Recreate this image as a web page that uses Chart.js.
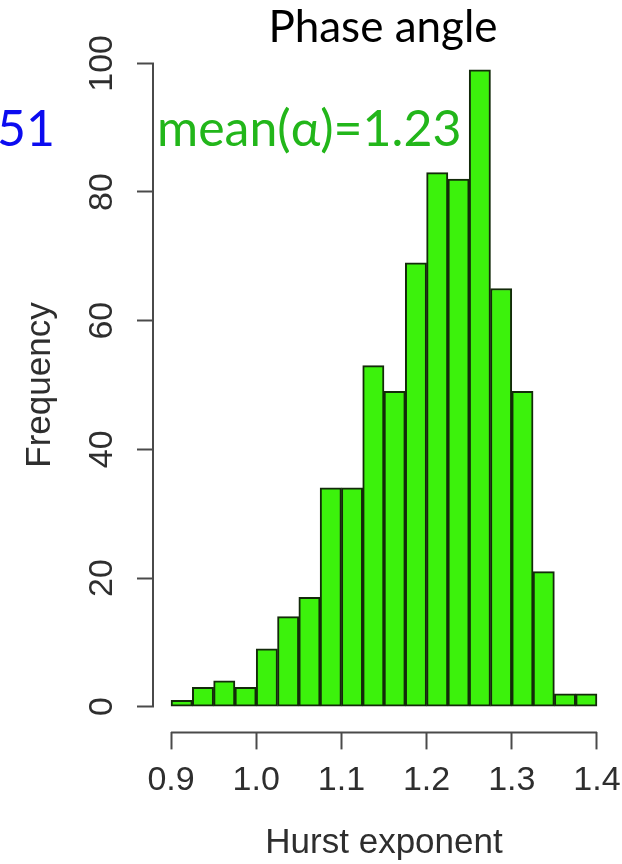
<!DOCTYPE html>
<html>
<head>
<meta charset="utf-8">
<script src="https://cdn.jsdelivr.net/npm/chart.js@4.4.1/dist/chart.umd.min.js"></script>
<style>
  html, body { margin: 0; padding: 0; background: #ffffff; }
  #wrap { width: 622px; height: 864px; }
</style>
</head>
<body>
<div id="wrap"><canvas id="c" width="622" height="864"></canvas></div>
<script>
// Histogram of Hurst exponents for the phase-angle series
const binEdges = [0.900, 0.925, 0.950, 0.975, 1.000, 1.025, 1.050, 1.075, 1.100, 1.125,
                  1.150, 1.175, 1.200, 1.225, 1.250, 1.275, 1.300, 1.325, 1.350, 1.375, 1.400];
const counts = [1, 3, 4, 3, 9, 14, 17, 34, 34, 53, 49, 69, 83, 82, 99, 65, 49, 21, 2, 2];
const xTicks = [0.9, 1.0, 1.1, 1.2, 1.3, 1.4];
const xTickLabels = ['0.9', '1.0', '1.1', '1.2', '1.3', '1.4'];
const yTicks = [0, 20, 40, 60, 80, 100];
const yTickLabels = ['0', '20', '40', '60', '80', '100'];
const xRange = [0.88, 1.42];
const yRange = [-4, 104];
const titleText = 'Phase angle';
const meanText = 'mean(α)=1.23';
const sideText = '51';

const AXIS_FONT = '"Liberation Sans", Arial, Helvetica, sans-serif';
const NOTE_FONT = 'Lato, "Open Sans", sans-serif';
const AXIS_INK = '#2e2e2e';
const LINE_INK = '#4a4a4a';

// base-graphics style axes: lines from first to last tick, rotated y labels, header texts
const decorPlugin = {
  id: 'decor',
  afterDraw(chart) {
    const { ctx, chartArea, scales: { x, y } } = chart;
    ctx.save();
    ctx.strokeStyle = LINE_INK;
    ctx.lineWidth = 2;
    ctx.beginPath();
    const ax = chartArea.left - 1;
    ctx.moveTo(ax, y.getPixelForValue(yTicks[0]));
    ctx.lineTo(ax, y.getPixelForValue(yTicks[yTicks.length - 1]));
    const ay = chartArea.bottom;
    ctx.moveTo(x.getPixelForValue(xTicks[0]), ay);
    ctx.lineTo(x.getPixelForValue(xTicks[xTicks.length - 1]), ay);
    ctx.stroke();

    ctx.fillStyle = AXIS_INK;
    ctx.font = '34px ' + AXIS_FONT;
    ctx.textAlign = 'center';
    ctx.textBaseline = 'middle';
    y.ticks.forEach((t, i) => {
      const py = y.getPixelForValue(t.value);
      ctx.save();
      ctx.translate(102.5, py);
      ctx.rotate(-Math.PI / 2);
      ctx.fillText(yTickLabels[i], 0, 0);
      ctx.restore();
    });

    ctx.textBaseline = 'alphabetic';
    ctx.fillStyle = '#000000';
    ctx.font = '44px ' + NOTE_FONT;
    ctx.textAlign = 'center';
    ctx.fillText(titleText, 383, 42);

    ctx.textAlign = 'left';
    ctx.font = '50px ' + NOTE_FONT;
    ctx.fillStyle = '#22b61a';
    ctx.fillText(meanText, 157, 146);
    ctx.fillStyle = '#0b0bf0';
    ctx.fillText(sideText, -3, 146);
    ctx.restore();
  }
};

const points = counts.map((c, i) => ({ x: (binEdges[i] + binEdges[i + 1]) / 2, y: c }));

new Chart(document.getElementById('c'), {
  type: 'bar',
  data: {
    datasets: [{
      data: points,
      backgroundColor: '#3cf20c',
      borderColor: '#132a0a',
      borderWidth: 2,
      borderSkipped: false,
      barPercentage: 1,
      categoryPercentage: 1
    }]
  },
  options: {
    responsive: false,
    animation: false,
    devicePixelRatio: 1,
    layout: { padding: { top: 37.6, right: 8, left: 0, bottom: 0 } },
    plugins: {
      legend: { display: false },
      tooltip: { enabled: false },
      title: { display: false }
    },
    scales: {
      x: {
        type: 'linear',
        min: xRange[0],
        max: xRange[1],
        offset: false,
        border: { display: false },
        grid: {
          display: true, offset: false, drawOnChartArea: false, drawTicks: true,
          tickLength: 17, tickColor: LINE_INK, tickWidth: 2
        },
        afterBuildTicks(s) { s.ticks = xTicks.map(v => ({ value: v })); },
        ticks: {
          padding: 14,
          autoSkip: false,
          maxRotation: 0,
          minRotation: 0,
          color: AXIS_INK,
          font: { family: AXIS_FONT, size: 34, lineHeight: 1 },
          callback: (v, i) => xTickLabels[i]
        },
        title: {
          display: true,
          text: 'Hurst exponent',
          color: AXIS_INK,
          font: { family: AXIS_FONT, size: 35, lineHeight: 1 },
          padding: { top: 0, bottom: 3.5 }
        },
        afterFit(s) { s.height = 131.6; s.paddingLeft = 0; s.paddingRight = 0; }
      },
      y: {
        type: 'linear',
        min: yRange[0],
        max: yRange[1],
        border: { display: false },
        grid: {
          display: true, drawOnChartArea: false, drawTicks: true,
          tickLength: 17, tickColor: LINE_INK, tickWidth: 2
        },
        afterBuildTicks(s) { s.ticks = yTicks.map(v => ({ value: v })); },
        ticks: { display: false },
        title: {
          display: true,
          text: 'Frequency',
          color: AXIS_INK,
          font: { family: AXIS_FONT, size: 35, lineHeight: 1 },
          padding: { top: 22.5, bottom: 0 }
        },
        afterFit(s) { s.width = 154; s.paddingTop = 0; s.paddingBottom = 0; }
      }
    }
  },
  plugins: [decorPlugin]
});
</script>
</body>
</html>
